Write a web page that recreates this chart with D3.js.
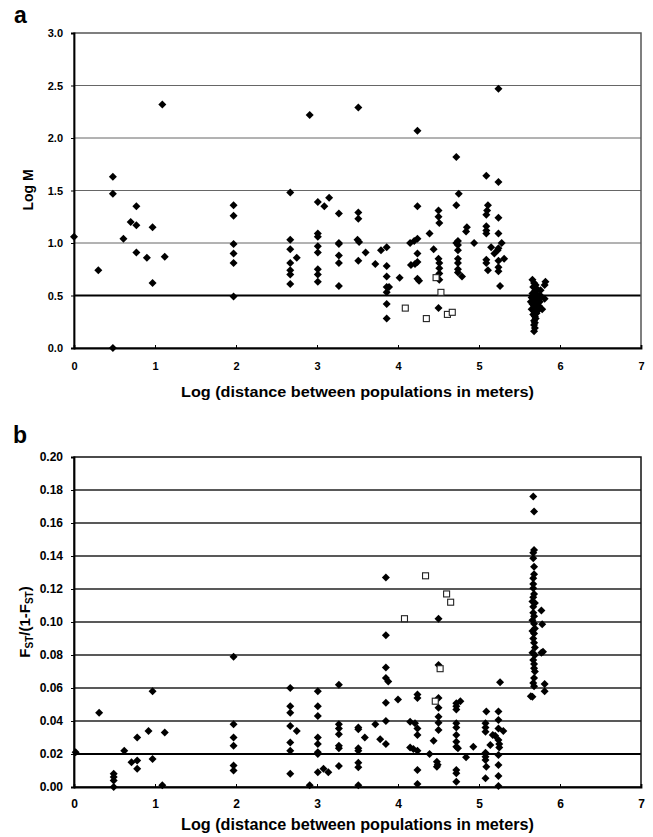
<!DOCTYPE html>
<html>
<head>
<meta charset="utf-8">
<script src="https://cdn.jsdelivr.net/npm/d3@7"></script>
<style>
  body { margin: 0; background: #fff; }
  text { font-family: "Liberation Sans", Arial, sans-serif; font-weight: bold; }
</style>
</head>
<body>
<svg id="fig" width="653" height="837"></svg>
<script>
// ---- data ----
var xTicks = [0, 1, 2, 3, 4, 5, 6, 7]
var aTicks = [0, 0.5, 1, 1.5, 2, 2.5, 3]
var bTicks = [0, 0.02, 0.04, 0.06, 0.08, 0.1, 0.12, 0.14, 0.16, 0.18, 0.2]

// panel a, Log M
var aDiamonds = [
  [0.00,1.06],[0.30,0.74],[0.48,1.63],[0.48,1.47],[0.48,0.00],[0.61,1.04],[0.70,1.20],
  [0.77,1.35],[0.77,1.17],[0.77,0.91],[0.90,0.86],[0.97,1.15],[0.97,0.62],[1.09,2.32],[1.12,0.87],
  [1.97,1.36],[1.97,1.26],[1.97,0.99],[1.97,0.90],[1.97,0.81],[1.97,0.49],
  [2.67,1.48],[2.67,1.03],[2.67,0.94],[2.67,0.81],[2.67,0.74],[2.67,0.70],[2.67,0.61],[2.75,0.86],
  [2.91,2.22],
  [3.01,1.39],[3.01,1.09],[3.01,1.06],[3.01,0.97],[3.01,0.91],[3.01,0.75],[3.01,0.70],[3.01,0.63],
  [3.09,1.35],[3.15,1.43],
  [3.27,1.28],[3.27,1.00],[3.27,0.99],[3.27,0.88],[3.27,0.81],[3.27,0.59],
  [3.51,2.29],[3.51,1.29],[3.51,1.23],[3.50,1.03],[3.52,1.01],[3.51,0.83],[3.60,0.91],
  [3.72,0.80],[3.79,0.93],[3.86,0.96],
  [3.86,0.78],[3.86,0.68],[3.86,0.58],[3.86,0.53],[3.86,0.42],[3.86,0.28],[3.89,0.58],
  [4.02,0.67],
  [4.24,2.07],[4.24,1.35],[4.24,1.04],[4.24,0.90],[4.24,0.82],[4.24,0.66],
  [4.15,1.00],[4.20,1.02],[4.16,0.79],[4.21,0.80],[4.26,0.64],
  [4.39,1.09],[4.44,0.94],
  [4.50,1.31],[4.50,1.25],[4.51,1.19],[4.50,0.85],[4.51,0.81],[4.51,0.76],[4.51,0.71],[4.51,0.65],[4.50,0.38],
  [4.72,1.82],[4.72,1.36],[4.72,1.00],[4.75,1.47],
  [4.74,1.02],[4.74,0.98],[4.74,0.93],[4.74,0.85],[4.74,0.81],[4.74,0.75],[4.74,0.72],[4.79,0.68],
  [4.85,1.15],[4.84,1.11],[4.94,1.00],
  [5.09,1.64],[5.11,1.36],[5.10,1.31],[5.09,1.27],[5.09,1.16],[5.09,1.12],[5.09,1.09],[5.09,0.84],[5.09,0.81],
  [5.11,0.74],[5.15,0.96],[5.19,0.90],
  [5.24,2.47],[5.24,1.58],[5.24,1.24],[5.24,1.09],[5.24,0.95],[5.23,0.93],[5.24,0.83],[5.24,0.77],[5.24,0.73],
  [5.28,1.00],[5.31,0.85],[5.26,0.59],
  [5.66,0.65],[5.68,0.62],[5.70,0.60],[5.67,0.58],[5.72,0.56],[5.69,0.54],[5.66,0.52],[5.71,0.51],
  [5.74,0.50],[5.68,0.49],[5.65,0.48],[5.72,0.47],[5.70,0.46],[5.67,0.45],[5.75,0.44],[5.69,0.43],
  [5.66,0.42],[5.72,0.41],[5.68,0.40],[5.70,0.38],[5.65,0.37],[5.73,0.36],[5.68,0.35],[5.71,0.33],
  [5.67,0.32],[5.69,0.30],[5.70,0.28],[5.68,0.26],[5.69,0.24],[5.68,0.22],[5.69,0.19],[5.68,0.16],
  [5.76,0.55],[5.77,0.49],[5.64,0.44],[5.74,0.40],
  [5.82,0.63],[5.81,0.60],[5.81,0.47],[5.78,0.37]
]
var aSquares = [[4.09,0.38],[4.35,0.28],[4.47,0.67],[4.53,0.53],[4.61,0.32],[4.67,0.34]]

// panel b, Fst/(1-Fst)
var bDiamonds = [
  [0.02,0.021],[0.31,0.045],[0.49,0.008],[0.49,0.006],[0.49,0.004],[0.49,0.000],[0.62,0.022],
  [0.71,0.015],[0.78,0.030],[0.78,0.016],[0.78,0.011],[0.92,0.034],[0.97,0.058],[0.97,0.017],
  [1.09,0.001],[1.12,0.033],
  [1.97,0.079],[1.97,0.038],[1.97,0.030],[1.97,0.025],[1.97,0.013],[1.97,0.010],
  [2.67,0.060],[2.67,0.049],[2.67,0.045],[2.67,0.037],[2.67,0.027],[2.67,0.022],[2.67,0.008],[2.75,0.034],
  [3.01,0.058],[3.01,0.049],[3.01,0.043],[3.01,0.030],[3.01,0.026],[3.01,0.021],[3.01,0.020],[3.01,0.009],
  [3.08,0.011],[3.14,0.009],[2.91,0.001],
  [3.27,0.062],[3.27,0.038],[3.27,0.0355],[3.27,0.032],[3.27,0.025],[3.27,0.0235],[3.27,0.0127],
  [3.51,0.036],[3.51,0.035],[3.51,0.0235],[3.51,0.022],[3.51,0.0147],[3.51,0.012],[3.51,0.001],[3.59,0.030],
  [3.72,0.038],[3.78,0.029],
  [3.85,0.127],[3.85,0.092],[3.85,0.0725],[3.85,0.066],[3.85,0.051],[3.85,0.040],[3.85,0.026],[3.88,0.064],
  [4.00,0.053],
  [4.24,0.056],[4.24,0.054],[4.24,0.0355],[4.24,0.0315],[4.24,0.022],[4.24,0.0103],[4.24,0.0018],
  [4.15,0.0396],[4.21,0.0386],[4.15,0.024],[4.19,0.023],
  [4.39,0.020],[4.44,0.028],
  [4.50,0.102],[4.50,0.074],[4.50,0.054],[4.50,0.048],[4.50,0.0426],[4.50,0.039],[4.50,0.0345],
  [4.48,0.0153],[4.48,0.0123],[4.49,0.0135],
  [4.72,0.0507],[4.72,0.049],[4.72,0.047],[4.72,0.0386],[4.72,0.036],[4.72,0.0315],[4.72,0.0275],
  [4.72,0.0244],[4.72,0.0103],[4.72,0.0083],[4.72,0.0032],
  [4.77,0.052],[4.74,0.0235],[4.84,0.018],[4.93,0.0244],
  [5.09,0.0457],[5.08,0.0386],[5.08,0.036],[5.08,0.0335],[5.08,0.0208],[5.08,0.0184],[5.08,0.0164],
  [5.09,0.0123],[5.08,0.0053],[5.17,0.0315],[5.14,0.0255],
  [5.24,0.0457],[5.24,0.0406],[5.24,0.0355],[5.24,0.0285],[5.25,0.026],[5.25,0.024],[5.24,0.0194],
  [5.24,0.0133],[5.24,0.0067],[5.24,0.0006],[5.26,0.0635],[5.30,0.034],[5.20,0.031],
  [5.67,0.176],[5.68,0.167],[5.68,0.1436],[5.67,0.142],[5.67,0.1386],[5.68,0.129],[5.67,0.123],
  [5.67,0.1204],[5.68,0.117],[5.67,0.115],[5.66,0.1125],[5.67,0.1093],[5.67,0.1056],[5.66,0.101],
  [5.68,0.099],[5.69,0.096],[5.68,0.093],[5.67,0.090],[5.68,0.0875],[5.66,0.0814],[5.69,0.080],
  [5.67,0.077],[5.68,0.072],[5.69,0.070],[5.68,0.066],[5.67,0.063],[5.68,0.061],[5.66,0.0547],
  [5.68,0.1335],[5.67,0.1265],[5.69,0.1115],[5.68,0.1035],[5.66,0.0945],[5.69,0.0845],[5.68,0.0745],
  [5.77,0.107],[5.78,0.0986],[5.79,0.082],[5.81,0.0624],[5.81,0.058],[5.77,0.0814],[5.64,0.055]
]
var bSquares = [[4.08,0.102],[4.34,0.128],[4.60,0.117],[4.65,0.112],[4.52,0.0717],[4.46,0.052]]

var svg = d3.select('#fig')

var diamond = d3.symbol().type(d3.symbolSquare).size(32)

var drawPanel = function (p) {
  var x = d3.scaleLinear().domain([0, 7]).range([74, 641])
  var y = d3.scaleLinear().domain(p.domain).range([p.bottom, p.top])
  var g = svg.append('g')

  // grid lines
  g.selectAll('line.grid')
   .data(p.ticks.filter(d => d > 0 && d < p.domain[1] - 1e-9))
   .enter()
   .append('line')
   .attr('x1', 74).attr('x2', 641)
   .attr('y1', d => y(d)).attr('y2', d => y(d))
   .attr('stroke', d => Math.abs(d - p.thresh) < 1e-9 ? '#000' : p.gridColor)
   .attr('stroke-width', d => Math.abs(d - p.thresh) < 1e-9 ? 2 : p.gridWidth)

  // frame
  g.append('rect')
   .attr('x', 74).attr('y', p.top)
   .attr('width', 641 - 74).attr('height', p.bottom - p.top)
   .attr('fill', 'none').attr('stroke', p.frameColor).attr('stroke-width', 1.5)

  var ya = d3.axisLeft(y).tickValues(p.ticks).tickFormat(d3.format(p.fmt)).tickSize(3).tickPadding(8)
  g.append('g').attr('transform', 'translate(74,0)').call(ya)
   .call(a => a.select('.domain').attr('stroke', '#000').attr('stroke-width', 1.8))
   .call(a => a.selectAll('text').attr('font-size', p.tickFont).attr('fill', '#000'))

  var xa = d3.axisBottom(x).tickValues(xTicks).tickFormat(d3.format('d')).tickSize(-3).tickPadding(p.xPad)
  g.append('g').attr('transform', 'translate(0,' + p.bottom + ')').call(xa)
   .call(a => a.select('.domain').attr('stroke', '#000').attr('stroke-width', 1.8))
   .call(a => a.selectAll('text').attr('font-size', p.tickFont).attr('fill', '#000'))

  // points
  g.selectAll('path.dia')
   .data(p.diamonds)
   .enter()
   .append('path')
   .attr('d', diamond)
   .attr('transform', d => 'translate(' + x(d[0]) + ',' + y(d[1]) + ') rotate(45)')
   .attr('fill', '#000')

  g.selectAll('rect.sq')
   .data(p.squares)
   .enter()
   .append('rect')
   .attr('x', d => x(d[0]) - 3).attr('y', d => y(d[1]) - 3)
   .attr('width', 6).attr('height', 6)
   .attr('fill', '#fff').attr('stroke', '#222').attr('stroke-width', 1.1)

  // x title
  g.append('text')
   .attr('x', 181).attr('y', p.xTitleY)
   .attr('font-size', p.titleFont)
   .attr('textLength', 353).attr('lengthAdjust', 'spacingAndGlyphs')
   .text('Log (distance between populations in meters)')

  return { x: x, y: y, g: g }
}

var pa = drawPanel({
  domain: [0, 3], top: 33, bottom: 348, ticks: aTicks, fmt: '.1f', thresh: 0.5,
  gridColor: '#666', gridWidth: 1, frameColor: '#555', tickFont: 11, xPad: 14,
  diamonds: aDiamonds, squares: aSquares, xTitleY: 397, titleFont: 14
})
pa.g.append('text')
  .attr('transform', 'translate(33,190) rotate(-90)')
  .attr('text-anchor', 'middle').attr('font-size', 14)
  .text('Log M')
svg.append('text').attr('x', 14).attr('y', 23).attr('font-size', 23).text('a')

var pb = drawPanel({
  domain: [0, 0.2], top: 457, bottom: 787, ticks: bTicks, fmt: '.2f', thresh: 0.02,
  gridColor: '#222', gridWidth: 1.3, frameColor: '#111', tickFont: 12, xPad: 12,
  diamonds: bDiamonds, squares: bSquares, xTitleY: 830, titleFont: 16
})
var yt = pb.g.append('text')
  .attr('transform', 'translate(30,622) rotate(-90)')
  .attr('text-anchor', 'middle').attr('font-size', 15)
yt.append('tspan').text('F')
yt.append('tspan').attr('font-size', 10).attr('dy', 3).text('ST')
yt.append('tspan').attr('dy', -3).text('/(1-F')
yt.append('tspan').attr('font-size', 10).attr('dy', 3).text('ST')
yt.append('tspan').attr('dy', -3).text(')')
svg.append('text').attr('x', 13).attr('y', 443).attr('font-size', 23).text('b')
</script>
</body>
</html>
